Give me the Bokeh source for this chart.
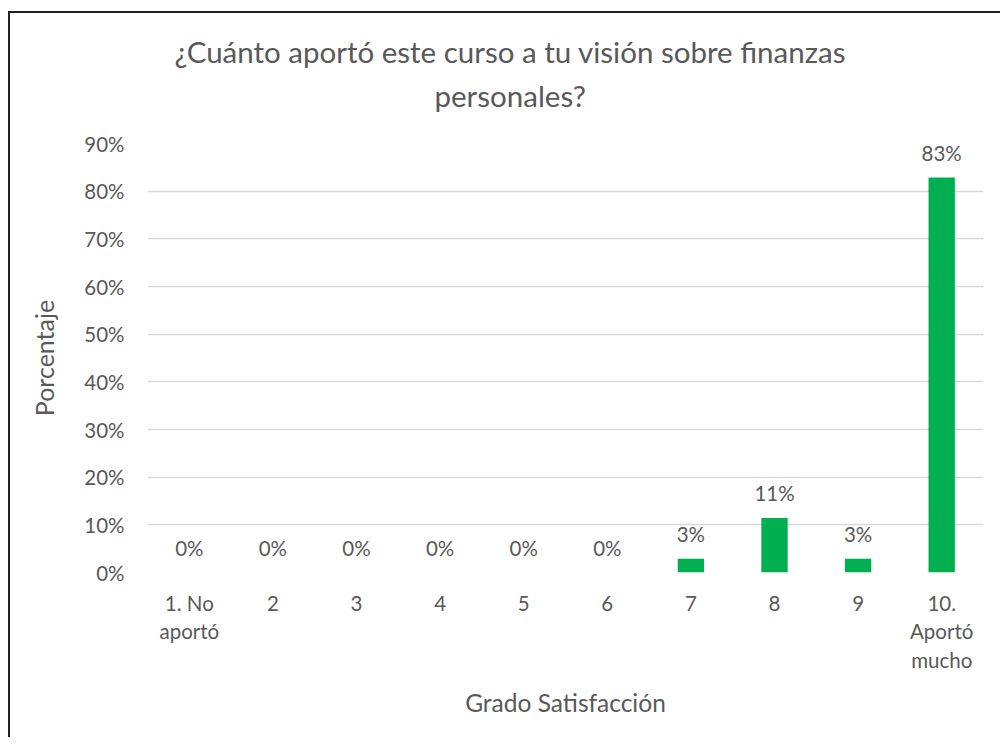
from bokeh.plotting import figure
from bokeh.models import ColumnDataSource, LabelSet, Title, FixedTicker, NumeralTickFormatter, Range1d
from bokeh.core.properties import value
from bokeh.embed import file_html
from bokeh.resources import INLINE

# ---- data ----
categories = ["1. No\naportó", "2", "3", "4", "5", "6", "7", "8", "9", "10.\nAportó\nmucho"]
percentages = [0.0, 0.0, 0.0, 0.0, 0.0, 0.0, 0.0286, 0.1143, 0.0286, 0.8286]
y_ticks = [0.0, 0.1, 0.2, 0.3, 0.4, 0.5, 0.6, 0.7, 0.8, 0.9]
title_lines = ["¿Cuánto aportó este curso a tu visión sobre finanzas", "personales?"]
x_title = "Grado Satisfacción"
y_title = "Porcentaje"

FONT = "Lato"
TXT = "#595959"
GRID = "#D9D9D9"
BAR = "#00B050"

labels = [f"{round(v * 100):.0f}%" for v in percentages]
src = ColumnDataSource(dict(cat=categories, pct=percentages, lab=labels))

p = figure(
    x_range=categories,
    y_range=Range1d(0, 0.9),
    frame_width=836, frame_height=429,
    min_border_left=137, min_border_right=17, min_border_top=130, min_border_bottom=165,
    output_backend="svg", toolbar_location=None,
)
p.styles = {"border-left": "2px solid #202020", "border-top": "2px solid #202020",
            "margin-left": "8px", "margin-top": "11px"}
p.outline_line_color = None
p.background_fill_color = "white"
p.border_fill_color = "white"

p.vbar(x="cat", top="pct", width=0.315, source=src, fill_color=BAR, line_color=None)

# grid
p.xgrid.grid_line_color = None
p.ygrid.grid_line_color = GRID
p.ygrid.grid_line_width = 1.3
p.yaxis.ticker = FixedTicker(ticks=y_ticks)
p.yaxis.formatter = NumeralTickFormatter(format="0%")

for ax in (p.xaxis[0], p.yaxis[0]):
    ax.axis_line_color = None
    ax.major_tick_line_color = None
    ax.minor_tick_line_color = None
    ax.major_tick_out = 0
    ax.major_tick_in = 0
    ax.major_label_text_font = FONT
    ax.major_label_text_font_size = "20.5px"
    ax.major_label_text_color = TXT
    ax.axis_label_text_font = FONT
    ax.axis_label_text_color = TXT
    ax.axis_label_text_font_style = "normal"

p.yaxis.major_label_standoff = 23
p.yaxis.axis_label = y_title
p.yaxis.axis_label_text_font_size = "25px"
p.yaxis.axis_label_standoff = 22

p.xaxis.major_label_standoff = 18
p.xaxis.major_label_text_line_height = 1.2
p.xaxis.axis_label = x_title
p.xaxis.axis_label_text_font_size = "24.5px"
p.xaxis.axis_label_standoff = 13
p.xaxis.major_label_orientation = "horizontal"
p.x_range.range_padding = 0

# data labels
ls = LabelSet(x="cat", y="pct", text="lab", source=src, y_offset=25,
              text_align="center", text_baseline="middle",
              text_font=value(FONT), text_font_size="20.5px", text_color=TXT)
p.add_layout(ls)

# spacer between title and plot area
p.add_layout(Title(text=" ", text_font=FONT, text_font_size="10px", standoff=12), "above")

# title (two lines; closest-to-plot added first)
title_offsets = [27, 287]
title_standoffs = [4, 10]
for txt, off, so in reversed(list(zip(title_lines, title_offsets, title_standoffs))):
    p.add_layout(Title(text=txt, align="left", offset=off, standoff=so,
                       text_font=FONT, text_font_size="29.5px", text_color=TXT,
                       text_font_style="normal"), "above")

open("out.html", "w").write(file_html(p, INLINE))
